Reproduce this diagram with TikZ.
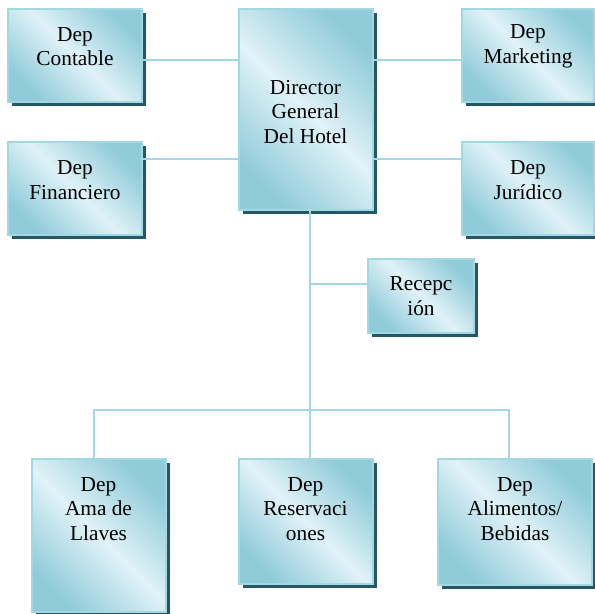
\documentclass[tikz,border=0pt]{standalone}
\usepackage{fontspec}
\newfontfamily\deptfont{Liberation Serif}
\usetikzlibrary{positioning,shadows}

\definecolor{boxedge}{HTML}{A3D8E3}
\definecolor{boxdark}{HTML}{90CBD9}
\definecolor{boxlight}{HTML}{E0F2F7}
\definecolor{boxshadow}{HTML}{245866}

\tikzstyle{dept} = [draw=boxedge, line width=1.5pt, rectangle, left color=boxdark, right color=boxdark, middle color=boxlight, shading angle=135, drop shadow={fill=boxshadow, opacity=1, shadow xshift=3pt, shadow yshift=-3pt}, minimum width=100.5pt, minimum height=70pt]
\tikzstyle{dept-text} = [align=center, font=\deptfont\fontsize{16}{18.5}\selectfont]
\tikzstyle{link} = [draw=boxedge, line width=1.5pt]

\begin{document}
\begin{tikzpicture}[x=0.75pt, y=-0.75pt]

	\useasboundingbox (0,0) rectangle (594,614);

	 \node [dept, minimum height=151pt] (director) at (305.5,109.5) {};
	 \node [dept] (contable) at (75,55.5) {};
	 \node [dept, below of=contable, node distance=99.75pt] (financiero) {};
	 \node [dept, minimum width=99pt] (marketing) at (528,55.5) {};
	 \node [dept, minimum width=99pt, below of=marketing, node distance=99.75pt] (juridico) {};
	 \node [dept, minimum width=79.5pt, minimum height=55.5pt] (recepcion) at (421,296) {};
	 \node [dept, minimum height=115pt] (ama) at (98.5,535.5) {};
	 \node [dept, minimum height=94pt] (reservaciones) at (305.5,521.5) {};
	 \node [dept, minimum width=115.5pt, minimum height=94pt] (alimentos) at (515,522) {};

	 \node [dept-text] (director-text) at ([yshift=-1.9pt]director.center) {Director\\General\\Del Hotel};
	 \node [dept-text] (contable-text) at ([yshift=6.75pt]contable.center) {Dep\\Contable};
	 \node [dept-text] (financiero-text) at ([yshift=6.4pt]financiero.center) {Dep\\Financiero};
	 \node [dept-text] (marketing-text) at ([yshift=6.75pt]marketing.center) {Dep\\Marketing};
	 \node [dept-text] (juridico-text) at ([yshift=6.4pt]juridico.center) {Dep\\Jurídico};
	 \node [dept-text] (recepcion-text) at (recepcion.center) {Recepc\\ión};
	 \node [dept-text] (ama-text) at ([yshift=19.9pt]ama.center) {Dep\\Ama de\\Llaves};
	 \node [dept-text] (reservaciones-text) at ([yshift=9.4pt]reservaciones.center) {Dep\\Reservaci\\ones};
	 \node [dept-text] (alimentos-text) at ([yshift=9.75pt]alimentos.center) {Dep\\Alimentos/\\Bebidas};

	\coordinate (trunk-top) at (310,210);
	\coordinate (trunk-rec) at (310,284);
	\coordinate (bus-mid) at (310,410);
	\coordinate (bus-left) at (94,410);
	\coordinate (bus-right) at (509,410);

	\draw [link] (contable.east |- 0,60) -- (director.west |- 0,60);
	\draw [link] (financiero.east |- 0,159) -- (director.west |- 0,159);
	\draw [link] (director.east |- 0,60) -- (marketing.west |- 0,60);
	\draw [link] (director.east |- 0,159) -- (juridico.west |- 0,159);

	\draw [link] (trunk-top) -- (reservaciones.north -| trunk-top);
	\draw [link] (trunk-rec) -- (recepcion.west |- trunk-rec);
	\draw [link] (ama.north -| bus-left) -- (bus-left) -- (bus-right) -- (alimentos.north -| bus-right);

	\end{tikzpicture}
\end{document}
